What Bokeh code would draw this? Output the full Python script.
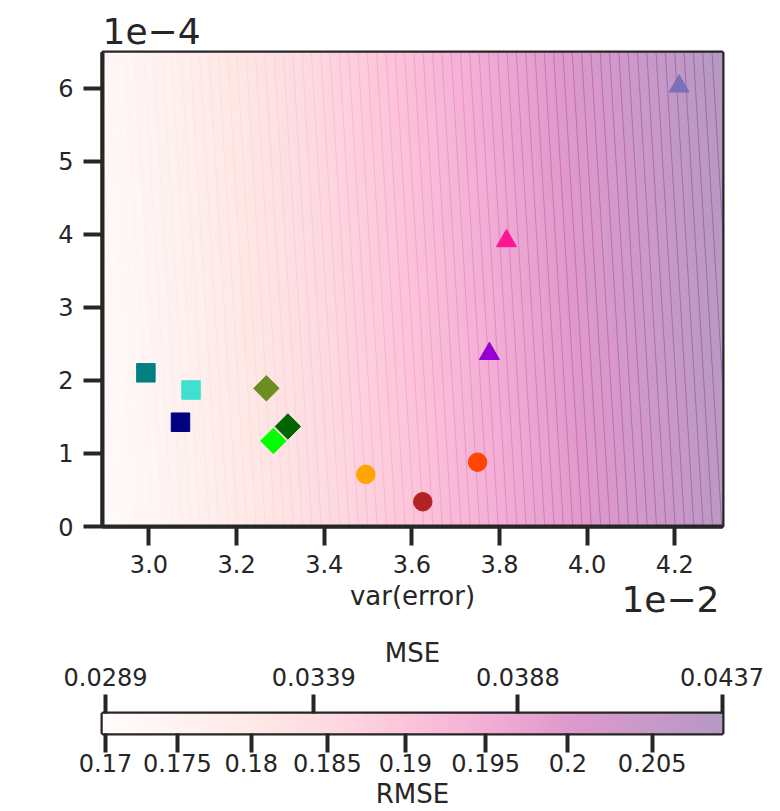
import numpy as np
from bokeh.plotting import figure
from bokeh.layouts import column
from bokeh.models import (LinearColorMapper, FixedTicker, LinearAxis, Title,
                          CustomJSTickFormatter, Range1d)
from bokeh.palettes import RdPu9
from bokeh.embed import file_html
from bokeh.resources import INLINE

# ---- data: var(error) in units of 1e-2, squared bias in units of 1e-4 ----
var_error = [2.993, 3.096, 3.072, 3.268, 3.317, 3.284, 3.495, 3.625, 3.750, 3.777, 3.816, 4.210]
bias_sq = [2.104, 1.869, 1.428, 1.892, 1.369, 1.171, 0.714, 0.339, 0.881, 2.366, 3.910, 6.027]
markers = ["square", "square", "square", "diamond", "diamond", "diamond",
           "circle", "circle", "circle", "triangle", "triangle", "triangle"]
colors = ["#008080", "#40e0d0", "#000080", "#6b8e23", "#006400", "#00ff00",
          "#ffa500", "#b22222", "#ff4500", "#9400d3", "#ff1493", "#7d70b8"]

x_ticks = [3.0, 3.2, 3.4, 3.6, 3.8, 4.0, 4.2]
y_ticks = [0, 1, 2, 3, 4, 5, 6]
mse_ticks = [0.0289, 0.0339, 0.0388, 0.0437]
rmse_ticks = [0.17, 0.175, 0.18, 0.185, 0.19, 0.195, 0.2, 0.205]

X_SCALE, Y_SCALE = 1e-2, 1e-4
x_lo, x_hi = 2.894, 4.309
y_lo, y_hi = 0.0, 6.49
mse_lo, mse_hi = 0.028828, 0.043712
n_levels = 70

TXT = "#262626"
FONT = "DejaVu Sans"
TICK_PX = "24px"
LABEL_PX = "26px"

# ---- colour map: RdPu drawn at 40% opacity over white ----
def hex2rgb(h):
    h = h.lstrip("#")
    return np.array([int(h[i:i + 2], 16) for i in (0, 2, 4)], dtype=float)

stops = np.array([hex2rgb(c) for c in RdPu9[::-1]])
t_stops = np.linspace(0, 1, len(stops))
t = np.linspace(0, 1, 256)
raw = np.stack([np.interp(t, t_stops, stops[:, k]) for k in range(3)], axis=1)
alpha = 0.4
blend = alpha * raw + (1 - alpha) * 255.0
to_hex = lambda a: "#%02x%02x%02x" % tuple(int(round(v)) for v in a)
palette = [to_hex(c) for c in blend]
raw_palette = [to_hex(c) for c in raw]

mapper = LinearColorMapper(palette=palette, low=mse_lo, high=mse_hi)


def style_axis(ax, tick_out):
    ax.major_tick_line_color = TXT
    ax.major_tick_line_width = 4
    ax.major_tick_out = tick_out
    ax.major_tick_in = 0
    ax.minor_tick_line_color = None
    ax.major_label_text_font = FONT
    ax.major_label_text_font_size = TICK_PX
    ax.major_label_text_color = TXT
    ax.axis_label_text_font = FONT
    ax.axis_label_text_font_size = LABEL_PX
    ax.axis_label_text_font_style = "normal"
    ax.axis_label_text_color = TXT


# ---- main panel ----
p = figure(width=780, height=618, x_range=Range1d(x_lo, x_hi), y_range=Range1d(y_lo, y_hi),
           output_backend="svg", toolbar_location=None,
           min_border_left=100, min_border_right=56, min_border_top=52, min_border_bottom=92)
p.background_fill_color = "white"
p.border_fill_color = "white"
p.grid.visible = False

# MSE = var + bias^2 over the visible domain
gx = np.linspace(x_lo, x_hi, 600)
gy = np.linspace(y_lo, y_hi, 400)
mse = gx[None, :] * X_SCALE + gy[:, None] * Y_SCALE
p.image(image=[mse], x=x_lo, y=y_lo, dw=x_hi - x_lo, dh=y_hi - y_lo, color_mapper=mapper)

# iso-MSE level lines
levels = np.linspace(mse_lo, mse_hi, n_levels + 1)[1:-1]
x0 = (levels - y_lo * Y_SCALE) / X_SCALE
x1 = (levels - y_hi * Y_SCALE) / X_SCALE
lev_cols = [raw_palette[int(round((L - mse_lo) / (mse_hi - mse_lo) * 255))] for L in levels]
p.segment(x0=x0, y0=[y_lo] * len(levels), x1=x1, y1=[y_hi] * len(levels),
          line_color=lev_cols, line_alpha=0.3, line_width=1)

# estimators
for xv, yv, m, c in zip(var_error, bias_sq, markers, colors):
    if m == "diamond":
        p.scatter([xv], [yv], marker="square", size=18, angle=np.pi / 4,
                  fill_color=c, line_color=c, line_width=1)
    elif m == "triangle":
        p.scatter([xv], [yv], marker="triangle", size=20, fill_color=c, line_color=c, line_width=1)
    else:
        p.scatter([xv], [yv], marker=m, size=18.5, fill_color=c, line_color=c, line_width=1)

p.outline_line_color = TXT
p.outline_line_width = 4
p.outline_line_alpha = 1

for ax in (p.xaxis[0], p.yaxis[0]):
    style_axis(ax, 19)
    ax.axis_line_color = TXT
    ax.axis_line_width = 4

p.xaxis[0].ticker = FixedTicker(ticks=x_ticks)
p.xaxis[0].formatter = CustomJSTickFormatter(code="return tick.toFixed(1);")
p.yaxis[0].ticker = FixedTicker(ticks=y_ticks)
p.xaxis[0].major_label_standoff = 9
p.yaxis[0].major_label_standoff = 10
p.xaxis[0].axis_label = "var(error)"
p.xaxis[0].axis_label_standoff = 5

# axis multipliers
p.add_layout(Title(text="1e\u22124", align="left", text_font=FONT, text_font_size="36px",
                   text_font_style="normal", text_color=TXT, standoff=18), "above")
p.add_layout(Title(text="1e\u22122", align="right", vertical_align="top", offset=3,
                   text_font=FONT, text_font_size="36px", text_font_style="normal",
                   text_color=TXT, standoff=-56), "below")

# ---- colour bar ----
cb = figure(width=780, height=193, x_range=Range1d(mse_lo, mse_hi), y_range=Range1d(0, 1),
            output_backend="svg", toolbar_location=None, x_axis_location=None,
            y_axis_location=None,
            min_border_left=102, min_border_right=58, min_border_top=95, min_border_bottom=77)
cb.grid.visible = False
cb.border_fill_color = "white"
grad = np.linspace(mse_lo, mse_hi, 512)[None, :]
cb.image(image=[grad], x=mse_lo, y=0, dw=mse_hi - mse_lo, dh=1, color_mapper=mapper)
cb.outline_line_color = TXT
cb.outline_line_width = 4
cb.outline_line_alpha = 1

top_ax = LinearAxis(ticker=FixedTicker(ticks=mse_ticks), axis_label="MSE",
                    formatter=CustomJSTickFormatter(code="return tick.toFixed(4);"))
bot_ax = LinearAxis(ticker=FixedTicker(ticks=[r * r for r in rmse_ticks]), axis_label="RMSE",
                    formatter=CustomJSTickFormatter(
                        code="return String(parseFloat(Math.sqrt(tick).toFixed(3)));"))
cb.add_layout(top_ax, "above")
cb.add_layout(bot_ax, "below")

for ax in (top_ax, bot_ax):
    style_axis(ax, 19)
    ax.axis_line_color = None
top_ax.major_label_standoff = 9
top_ax.axis_label_standoff = -3
bot_ax.major_label_standoff = 1
bot_ax.axis_label_standoff = 4

layout = column(p, cb, spacing=0)
open("out.html", "w").write(file_html(layout, INLINE))
